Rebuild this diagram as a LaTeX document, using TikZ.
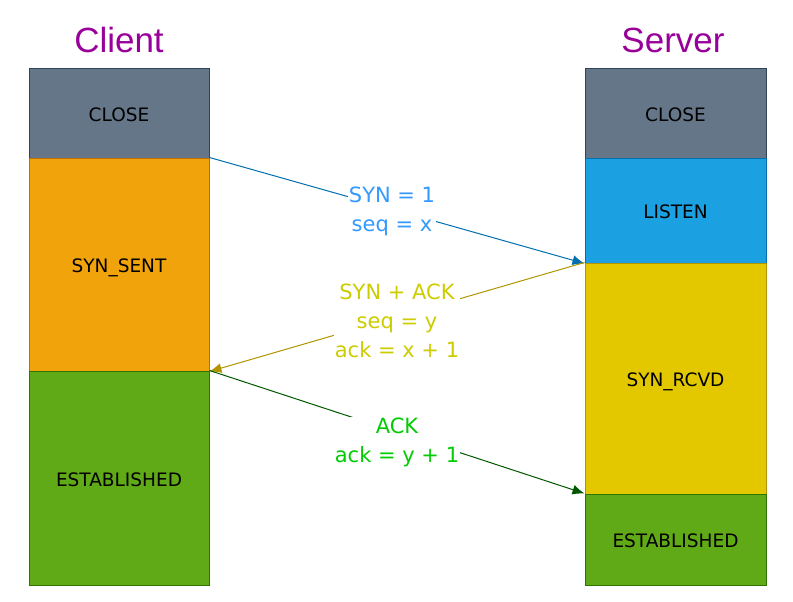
\documentclass[tikz,border=0pt]{standalone}
\usepackage{fontspec}
\setmainfont{DejaVu Sans}
\newfontfamily\titlefont{Liberation Sans}
\usetikzlibrary{arrows.meta}
\definecolor{closefill}{HTML}{647687}
\definecolor{closedraw}{HTML}{314354}
\definecolor{sentfill}{HTML}{F0A30A}
\definecolor{sentdraw}{HTML}{BD7000}
\definecolor{estfill}{HTML}{60A917}
\definecolor{estdraw}{HTML}{2D7600}
\definecolor{listenfill}{HTML}{1BA1E2}
\definecolor{listendraw}{HTML}{006EAF}
\definecolor{rcvdfill}{HTML}{E3C800}
\definecolor{rcvddraw}{HTML}{B09500}
\definecolor{titlecol}{HTML}{990099}
\definecolor{synlbl}{HTML}{3399FF}
\definecolor{synacklbl}{HTML}{CCCC00}
\definecolor{acklbl}{HTML}{00CC00}
\definecolor{ackline}{HTML}{005700}
\begin{document}
\begin{tikzpicture}[x=1pt,y=-1pt,
  state/.style={rectangle, inner sep=0pt, line width=1pt, minimum width=180pt,
    text height=16pt, text depth=0pt,
    font=\fontsize{18.5}{22}\selectfont, text=black},
  title/.style={font=\titlefont\fontsize{35}{40}\selectfont, text=titlecol, inner sep=0pt},
  msg/.style={fill=white, inner sep=1pt, align=center, font=\fontsize{21}{29}\selectfont},
  conn/.style={line width=1pt, -{Latex[length=12pt,width=10pt]}}
]
\useasboundingbox (0,0) rectangle (793,602);
% Client
\node[title] (ctitle) at (119,40) {Client};
\node[state, fill=closefill, draw=closedraw, minimum height=89pt] (cclose) at (119,113.5) {CLOSE};
\node[state, fill=sentfill, draw=sentdraw, minimum height=213pt] (csent) at (119,264.5) {SYN\_SENT};
\node[state, fill=estfill, draw=estdraw, minimum height=214pt] (cest) at (119,478) {ESTABLISHED};
% Server
\node[title] (stitle) at (673,40) {Server};
\node[state, fill=closefill, draw=closedraw, minimum height=89pt, minimum width=181pt] (sclose) at (675.5,113.5) {CLOSE};
\node[state, fill=listenfill, draw=listendraw, minimum height=105pt, minimum width=181pt] (slisten) at (675.5,210.5) {LISTEN};
\node[state, fill=rcvdfill, draw=rcvddraw, minimum height=231pt, minimum width=181pt] (srcvd) at (675.5,378.5) {SYN\_RCVD};
\node[state, fill=estfill, draw=estdraw, minimum height=91pt, minimum width=181pt] (sest) at (675.5,539.5) {ESTABLISHED};
% Connectors
\draw[conn, draw=listendraw] (csent.north east) -- node[msg, text=synlbl, xshift=-5pt, yshift=-1pt] {SYN = 1\\seq = x} (slisten.south west);
\draw[conn, draw=rcvddraw] (srcvd.north west) -- node[msg, text=synacklbl, yshift=-4pt] {SYN + ACK\\seq = y\\ack = x + 1} (csent.south east);
\draw[conn, draw=ackline] (cest.north east) -- node[msg, text=acklbl, yshift=-10pt] {ACK\\ack = y + 1} (sest.north west);
\end{tikzpicture}
\end{document}
